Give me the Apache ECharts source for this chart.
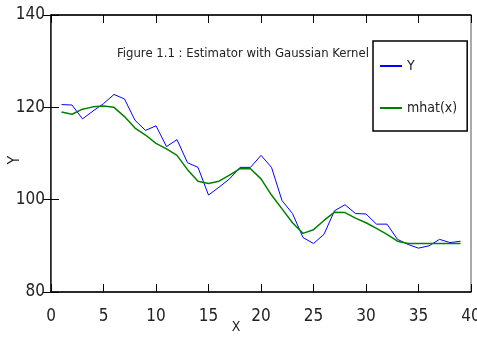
<!DOCTYPE html>
<html><head><meta charset="utf-8">
<script src="https://cdn.jsdelivr.net/npm/echarts@6/dist/echarts.min.js"></script>
<style>html,body{margin:0;padding:0;background:#fff}#c{width:477px;height:339px}</style>
</head><body><div id="c"></div>
<script>
const xValues = [1,2,3,4,5,6,7,8,9,10,11,12,13,14,15,16,17,18,19,20,21,22,23,24,25,26,27,28,29,30,31,32,33,34,35,36,37,38,39];
const yValues = [120.6,120.5,117.5,119.2,120.8,122.8,121.8,117.2,115,116,111.5,113,108,107,101,102.7,104.5,107,107,109.6,107,99.8,97,91.8,90.5,92.5,97.6,98.9,97,96.9,94.7,94.7,91.4,90.3,89.5,90,91.4,90.7,91];
const mhatValues = [119,118.5,119.6,120.1,120.3,120,118,115.5,114,112.2,111,109.6,106.5,104,103.5,104,105.3,106.7,106.7,104.5,101,98,95,92.7,93.5,95.5,97.3,97.2,96,95,93.8,92.5,91,90.5,90.5,90.5,90.5,90.5,90.5];
const titleText = 'Figure 1.1 : Estimator with Gaussian Kernel';
const seriesNames = ['Y', 'mhat(x)'];
const xLabelText = 'X';
const yLabelText = 'Y';

const FONT = "'DejaVu Sans Condensed', 'Liberation Sans Narrow', 'Liberation Sans', sans-serif";
const chart = echarts.init(document.getElementById('c'));
const pair = arr => arr.map((v, i) => [xValues[i], v]);
const axLine = {show: true, lineStyle: {color: '#000', width: 1.5}};
const tickIn = {show: true, inside: true, length: 8, lineStyle: {color: '#000', width: 1}};
chart.setOption({
  animation: false,
  grid: {left: 51, right: 6, top: 15, bottom: 47, show: true, borderColor: '#555', borderWidth: 1, backgroundColor: 'transparent', outerBoundsMode: 'none', containLabel: false},
  title: {text: titleText, left: 112, top: 42, textStyle: {fontFamily: FONT, fontSize: 13, fontWeight: 'normal', color: '#222'}},
  legend: {
    data: seriesNames, orient: 'vertical', left: 373, top: 41,
    borderColor: '#000', borderWidth: 1.5, backgroundColor: '#fff',
    padding: [18, 10, 16, 7], itemGap: 28, itemWidth: 22, itemHeight: 2, itemTextGap: 10, icon: 'rect',
    textStyle: {fontFamily: FONT, fontSize: 14, color: '#222'}
  },
  xAxis: [
    {type: 'value', min: 0, max: 40, interval: 5, position: 'bottom',
     axisLine: axLine, axisTick: tickIn, splitLine: {show: false},
     axisLabel: {fontFamily: FONT, fontSize: 17, color: '#222', margin: 16}},
    {type: 'value', min: 0, max: 40, interval: 5, position: 'top',
     axisLine: axLine, axisTick: tickIn, splitLine: {show: false}, axisLabel: {show: false}}
  ],
  yAxis: [
    {type: 'value', min: 80, max: 140, interval: 20, position: 'left',
     axisLine: axLine, axisTick: tickIn, splitLine: {show: false},
     axisLabel: {fontFamily: FONT, fontSize: 17, color: '#222', margin: 6}},
    {type: 'value', min: 80, max: 140, interval: 20, position: 'right',
     axisLine: {show: true, lineStyle: {color: '#555', width: 1}}, axisTick: tickIn, splitLine: {show: false}, axisLabel: {show: false}}
  ],
  graphic: [
    {type: 'text', x: 236, y: 327, style: {text: xLabelText, font: '14px ' + FONT, fill: '#222', align: 'center', verticalAlign: 'middle'}},
    {type: 'text', x: 15, y: 160, rotation: Math.PI / 2, style: {text: yLabelText, font: '16px ' + FONT, fill: '#222', align: 'center', verticalAlign: 'middle'}}
  ],
  series: [
    {name: seriesNames[0], type: 'line', data: pair(yValues), showSymbol: false, color: '#0000ff', lineStyle: {width: 1, color: '#0000ff'}},
    {name: seriesNames[1], type: 'line', data: pair(mhatValues), showSymbol: false, color: '#008000', lineStyle: {width: 1.5, color: '#008000'}}
  ]
});
</script></body></html>
